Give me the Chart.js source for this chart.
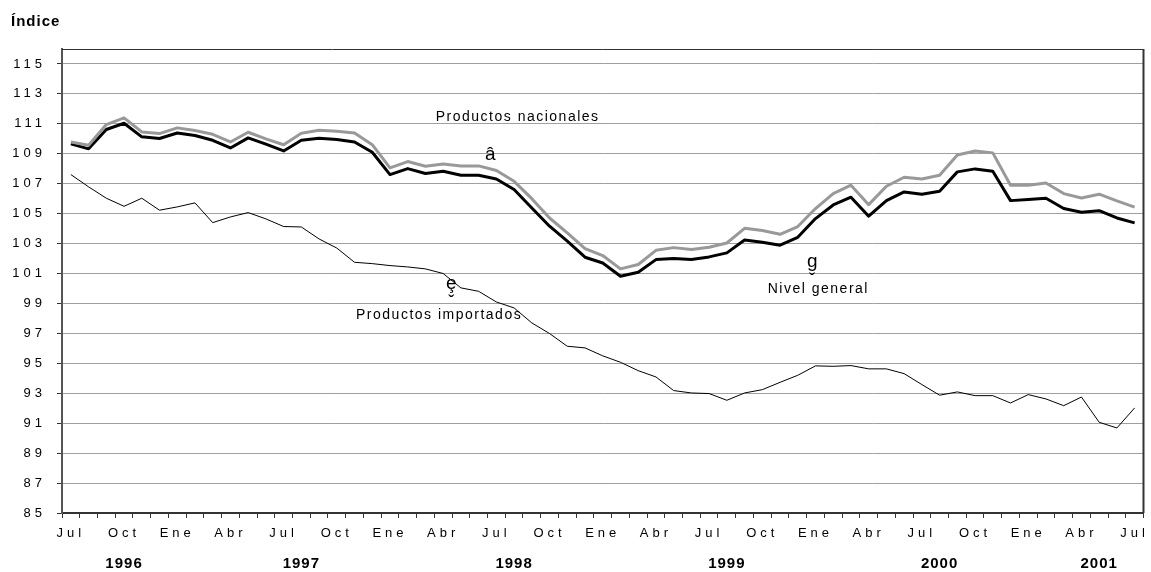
<!DOCTYPE html>
<html>
<head>
<meta charset="utf-8">
<script src="https://cdn.jsdelivr.net/npm/chart.js@4.4.0/dist/chart.umd.min.js"></script>
<style>
  body { margin: 0; background: #fff; }
</style>
</head>
<body>
<canvas id="indexChart" width="1151" height="572"></canvas>
<script>
// months, Jul 1996 .. Jul 2001
const categories = [
  'Jul 1996', 'Ago 1996', 'Sep 1996', 'Oct 1996', 'Nov 1996', 'Dic 1996',
  'Ene 1997', 'Feb 1997', 'Mar 1997', 'Abr 1997', 'May 1997', 'Jun 1997',
  'Jul 1997', 'Ago 1997', 'Sep 1997', 'Oct 1997', 'Nov 1997', 'Dic 1997',
  'Ene 1998', 'Feb 1998', 'Mar 1998', 'Abr 1998', 'May 1998', 'Jun 1998',
  'Jul 1998', 'Ago 1998', 'Sep 1998', 'Oct 1998', 'Nov 1998', 'Dic 1998',
  'Ene 1999', 'Feb 1999', 'Mar 1999', 'Abr 1999', 'May 1999', 'Jun 1999',
  'Jul 1999', 'Ago 1999', 'Sep 1999', 'Oct 1999', 'Nov 1999', 'Dic 1999',
  'Ene 2000', 'Feb 2000', 'Mar 2000', 'Abr 2000', 'May 2000', 'Jun 2000',
  'Jul 2000', 'Ago 2000', 'Sep 2000', 'Oct 2000', 'Nov 2000', 'Dic 2000',
  'Ene 2001', 'Feb 2001', 'Mar 2001', 'Abr 2001', 'May 2001', 'Jun 2001',
  'Jul 2001'
];

const nivelGeneral = [
  109.66, 109.33, 110.62, 111.04, 110.13, 110.02,
  110.39, 110.22, 109.90, 109.39, 110.06, 109.64,
  109.19, 109.90, 110.04, 109.95, 109.79, 109.10,
  107.61, 108.01, 107.68, 107.83, 107.57, 107.57,
  107.32, 106.61, 105.38, 104.16, 103.16, 102.09,
  101.70, 100.82, 101.08, 101.93, 102.00, 101.93,
  102.11, 102.38, 103.24, 103.09, 102.89, 103.42,
  104.67, 105.58, 106.10, 104.83, 105.87, 106.45,
  106.30, 106.50, 107.79, 107.99, 107.83, 105.87,
  105.94, 106.03, 105.34, 105.09, 105.20, 104.71,
  104.38
];

const productosNacionales = [
  109.79, 109.57, 110.95, 111.40, 110.46, 110.35,
  110.73, 110.55, 110.30, 109.79, 110.44, 110.00,
  109.60, 110.37, 110.57, 110.50, 110.39, 109.61,
  108.06, 108.48, 108.17, 108.32, 108.19, 108.19,
  107.88, 107.16, 106.00, 104.71, 103.71, 102.67,
  102.20, 101.31, 101.60, 102.55, 102.73, 102.60,
  102.76, 103.04, 104.02, 103.87, 103.62, 104.14,
  105.34, 106.34, 106.90, 105.60, 106.83, 107.43,
  107.32, 107.57, 108.92, 109.19, 109.06, 106.90,
  106.90, 107.05, 106.34, 106.05, 106.30, 105.85,
  105.43
];

const productosImportados = [
  107.61, 106.79, 106.03, 105.49, 106.03, 105.23,
  105.45, 105.72, 104.40, 104.78, 105.07, 104.65,
  104.14, 104.11, 103.31, 102.70, 101.75, 101.66,
  101.53, 101.44, 101.31, 101.00, 100.04, 99.81,
  99.10, 98.70, 97.70, 96.99, 96.14, 96.03,
  95.50, 95.07, 94.51, 94.09, 93.18, 93.02,
  92.98, 92.53, 93.02, 93.24, 93.73, 94.20,
  94.83, 94.80, 94.85, 94.63, 94.63, 94.31,
  93.58, 92.87, 93.09, 92.84, 92.84, 92.35,
  92.91, 92.62, 92.17, 92.75, 91.06, 90.68,
  92.02
];

const monthTicks = ['Jul', 'Oct', 'Ene', 'Abr'];
const yearTicks = ['Oct 1996', 'Ago 1997', 'Ago 1998', 'Ago 1999', 'Ago 2000', 'May 2001'];
const yTicks = [85, 87, 89, 91, 93, 95, 97, 99, 101, 103, 105, 107, 109, 111, 113, 115];

// text placed in the plot: [text, category index, value]
const notes = [
  ['Productos nacionales', 25.2, 111.43],
  ['\u00e2', 23.65, 108.94],
  ['Productos importados', 20.77, 98.24],
  ['\u0229\u032c', 21.45, 100.31],
  ['Nivel general', 42.16, 99.98],
  ['g\u032c', 41.82, 101.78]
];

const FONT = '"Liberation Sans", Arial, sans-serif';
const tickSpacing = { x: '4px', y: '4px', years: '1px' };

// canvas letter spacing per axis (Excel-style spaced labels)
const spacingPlugin = {
  id: 'spacing',
  beforeDraw(chart) {
    Object.keys(tickSpacing).forEach(id => {
      const scale = chart.scales[id];
      if (!scale || scale._spaced) return;
      const orig = scale.drawLabels;
      scale.drawLabels = function (area) {
        this.ctx.letterSpacing = tickSpacing[id];
        orig.call(this, area);
        this.ctx.letterSpacing = '0px';
      };
      scale._spaced = true;
    });
  }
};

const notesPlugin = {
  id: 'notes',
  afterDraw(chart) {
    const { ctx, chartArea: a, scales } = chart;
    ctx.save();
    ctx.strokeStyle = '#333';
    ctx.lineWidth = 1;
    ctx.beginPath();
    ctx.moveTo(a.left, a.top + 0.5);
    ctx.lineTo(a.right, a.top + 0.5);
    ctx.stroke();
    ctx.lineWidth = 2;
    ctx.beginPath();
    ctx.moveTo(a.right, a.top);
    ctx.lineTo(a.right, a.bottom);
    ctx.stroke();

    ctx.fillStyle = '#000';
    ctx.textAlign = 'center';
    ctx.textBaseline = 'middle';
    notes.forEach(([text, at, value]) => {
      const glyph = text.length <= 2;
      ctx.font = (glyph ? '19px ' : '14px ') + FONT;
      ctx.letterSpacing = glyph ? '0px' : '1.5px';
      ctx.fillText(text, scales.x.getPixelForValue(at), scales.y.getPixelForValue(value));
    });

    ctx.textAlign = 'left';
    ctx.font = 'bold 15px ' + FONT;
    ctx.letterSpacing = '1px';
    ctx.fillText('\u00cdndice', 11, 22);
    ctx.restore();
  }
};

const ctx = document.getElementById('indexChart').getContext('2d');

new Chart(ctx, {
  type: 'line',
  data: {
    labels: categories,
    datasets: [{
      label: 'Productos nacionales',
      data: productosNacionales,
      borderColor: '#999999',
      borderWidth: 3,
      xAxisID: 'x'
    }, {
      label: 'Nivel general',
      data: nivelGeneral,
      borderColor: '#000000',
      borderWidth: 3,
      xAxisID: 'x'
    }, {
      label: 'Productos importados',
      data: productosImportados,
      borderColor: '#000000',
      borderWidth: 1,
      xAxisID: 'x'
    }]
  },
  options: {
    responsive: false,
    animation: false,
    layout: { padding: { top: 49, right: 7, left: 0, bottom: 0 } },
    elements: {
      point: { radius: 0, hoverRadius: 0 },
      line: { tension: 0, borderJoinStyle: 'round' }
    },
    plugins: {
      legend: { display: false },
      tooltip: { enabled: false },
      title: { display: false }
    },
    scales: {
      x: {
        type: 'category',
        position: 'bottom',
        offset: true,
        weight: 0,
        grid: {
          display: true,
          drawOnChartArea: false,
          offset: true,
          tickLength: 5,
          color: '#333'
        },
        border: { display: true, color: '#333', width: 2 },
        ticks: {
          autoSkip: false,
          maxRotation: 0,
          minRotation: 0,
          padding: 8,
          color: '#000',
          font: { family: FONT, size: 13 },
          callback: (value, index) => {
            const m = categories[index].split(' ')[0];
            return index % 3 === 0 && monthTicks.includes(m) ? m : '';
          }
        },
        afterFit: (scale) => { scale.height = 30; }
      },
      years: {
        type: 'category',
        axis: 'x',
        position: 'bottom',
        offset: true,
        weight: 1,
        grid: { display: false },
        border: { display: false },
        ticks: {
          autoSkip: false,
          maxRotation: 0,
          minRotation: 0,
          padding: 4,
          color: '#000',
          font: { family: FONT, size: 15, weight: 'bold' },
          callback: (value, index) => yearTicks.includes(categories[index]) ? categories[index].split(' ')[1] : ''
        },
        afterFit: (scale) => { scale.height = 29; }
      },
      y: {
        min: 85,
        max: 116,
        grid: {
          color: '#a0a0a0',
          lineWidth: 1,
          tickLength: 5,
          tickColor: '#333'
        },
        border: { display: true, color: '#555', width: 2 },
        ticks: {
          padding: 11,
          color: '#000',
          font: { family: FONT, size: 13 }
        },
        afterBuildTicks: (scale) => { scale.ticks = yTicks.map(v => ({ value: v })); },
        afterFit: (scale) => { scale.width = 62; }
      }
    }
  },
  plugins: [spacingPlugin, notesPlugin]
});
</script>
</body>
</html>
